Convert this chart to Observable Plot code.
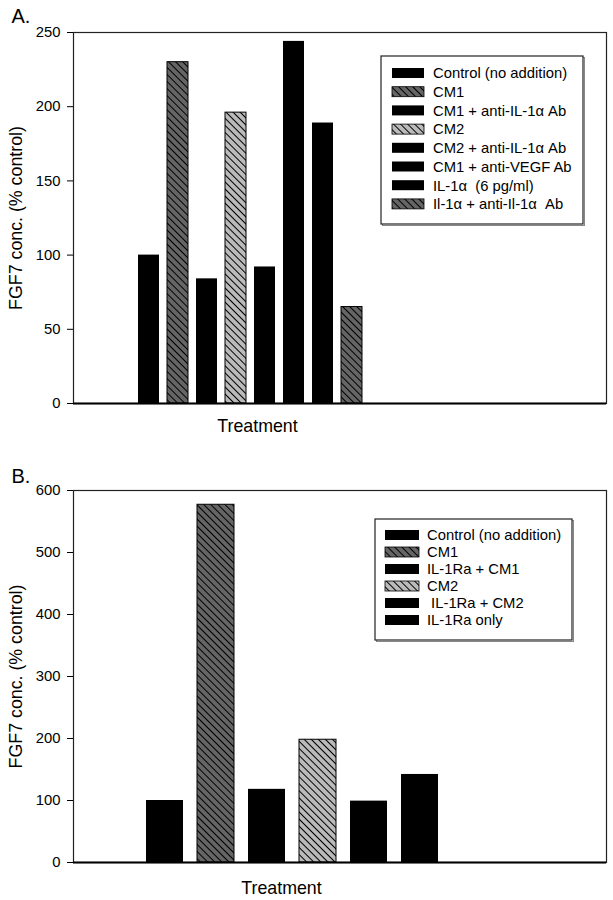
<!DOCTYPE html>
<html>
<head>
<meta charset="utf-8">
<script src="https://cdn.jsdelivr.net/npm/d3@7"></script>
<script src="https://cdn.jsdelivr.net/npm/@observablehq/plot@0.6"></script>
<style>
  html, body { margin: 0; padding: 0; background: #fff; }
  body { width: 613px; height: 900px; overflow: hidden; font-family: "Liberation Sans", Arial, sans-serif; }
  .panel { width: 613px; height: 450px; }
  svg text.pre { white-space: pre; }
</style>
</head>
<body>
<svg width="0" height="0" style="position:absolute">
  <defs>
    <pattern id="hatchDark" patternUnits="userSpaceOnUse" width="5" height="5" patternTransform="rotate(-45)">
      <rect width="5" height="5" fill="#656565"></rect>
      <line x1="0.5" y1="0" x2="0.5" y2="5" stroke="#000" stroke-width="1"></line>
    </pattern>
    <pattern id="hatchLight" patternUnits="userSpaceOnUse" width="5" height="5" patternTransform="rotate(-45)">
      <rect width="5" height="5" fill="#bababa"></rect>
      <line x1="0.5" y1="0" x2="0.5" y2="5" stroke="#000" stroke-width="1"></line>
    </pattern>
  </defs>
</svg>
<div id="panelA" class="panel"></div>
<div id="panelB" class="panel"></div>
<script>
// ---------- data ----------
const treatmentsA = ["Control (no addition)", "CM1", "CM1 + anti-IL-1\u03b1 Ab", "CM2", "CM2 + anti-IL-1\u03b1 Ab", "CM1 + anti-VEGF Ab", "IL-1\u03b1  (6 pg/ml)", "Il-1\u03b1 + anti-Il-1\u03b1  Ab"];
const valuesA = [100, 230, 84, 196, 92, 244, 189, 65];
const patternsA = ["solid", "dark", "solid", "light", "solid", "solid", "solid", "dark"];
const ticksA = [0, 50, 100, 150, 200, 250];

const treatmentsB = ["Control (no addition)", "CM1", "IL-1Ra + CM1", "CM2", " IL-1Ra + CM2", "IL-1Ra only"];
const valuesB = [100, 577, 118, 198, 99, 142];
const patternsB = ["solid", "dark", "solid", "light", "solid", "solid"];
const ticksB = [0, 100, 200, 300, 400, 500, 600];

const panelLabels = ["A.", "B."];
const yLabel = "FGF7 conc. (% control)";
const xLabel = "Treatment";

const fills = {solid: "#000", dark: "url(#hatchDark)", light: "url(#hatchLight)"};
const FONT = "'Liberation Sans', Arial, Helvetica, sans-serif";

function makePanel(cfg) {
  const data = cfg.treatments.map((t, i) => ({treatment: t, value: cfg.values[i], fill: fills[cfg.patterns[i]], pat: cfg.patterns[i]}));
  const svg = Plot.plot({
    width: 613,
    height: 450,
    marginLeft: 73,
    marginRight: 7,
    marginTop: cfg.marginTop,
    marginBottom: cfg.marginBottom,
    style: {fontFamily: FONT, fontSize: "14.5px", color: "#000", background: "#fff"},
    x: {domain: cfg.treatments, range: cfg.xRange, paddingInner: 0.27, paddingOuter: 0.135, axis: null},
    y: {domain: [0, cfg.ticks[cfg.ticks.length - 1]], axis: null},
    color: {type: "identity"},
    marks: [
      Plot.barY(data, {x: "treatment", y: "value", fill: "fill", stroke: d => d.pat === "solid" ? "none" : "#000", strokeWidth: 1}),
      Plot.frame({stroke: "#222", strokeWidth: 1.2}),
      Plot.ruleY([0], {stroke: "#000", strokeWidth: 2}),
      Plot.axisY({ticks: cfg.ticks, tickSize: 6, tickPadding: 7, fontSize: 14.8, label: null, tickFormat: d => String(d)}),
      Plot.text([yLabel], {text: d => d, frameAnchor: "left", dx: -57, rotate: -90, fontSize: 17.8, textAnchor: "middle", lineAnchor: "middle"}),
      Plot.text([xLabel], {text: d => d, frameAnchor: "bottom-left", dx: cfg.xLabelDx, dy: cfg.xLabelDy, fontSize: 17.8, textAnchor: "middle", lineAnchor: "middle"}),
      Plot.text([cfg.panelLabel], {text: d => d, frameAnchor: "top-left", dx: -62, dy: cfg.panelDy, fontSize: 20, textAnchor: "start", lineAnchor: "bottom"})
    ]
  });

  // legend box
  const L = cfg.legend;
  const g = d3.select(svg).append("g")
    .attr("font-family", FONT).attr("font-size", 14.8).attr("text-anchor", "start");
  g.append("rect").attr("x", L.x + 1.5).attr("y", L.y + 1.5).attr("width", L.w).attr("height", L.h)
    .attr("fill", "none").attr("stroke", "#888").attr("stroke-width", 1);
  g.append("rect").attr("x", L.x).attr("y", L.y).attr("width", L.w).attr("height", L.h)
    .attr("fill", "#fff").attr("stroke", "#222").attr("stroke-width", 1.2);
  cfg.treatments.forEach((t, i) => {
    const cy = L.row0 + i * L.step;
    g.append("rect").attr("x", L.sx).attr("y", cy - 5).attr("width", L.sw).attr("height", 10)
      .attr("fill", fills[cfg.patterns[i]])
      .attr("stroke", cfg.patterns[i] === "solid" ? "none" : "#000").attr("stroke-width", 0.8);
    g.append("text").attr("class", "pre").attr("x", L.tx).attr("y", cy).attr("dy", "0.36em")
      .attr("text-anchor", "start").attr("fill", "#000").text(t);
  });
  return svg;
}

document.getElementById("panelA").appendChild(makePanel({
  treatments: treatmentsA, values: valuesA, patterns: patternsA, ticks: ticksA,
  marginTop: 32, marginBottom: 47, xRange: [132.6, 367.8],
  xLabelDx: 184, xLabelDy: 23, panelLabel: panelLabels[0], panelDy: -10,
  legend: {x: 381, y: 56, w: 202, h: 168, row0: 73, step: 18.7, sx: 392, sw: 32, tx: 433}
}));

document.getElementById("panelB").appendChild(makePanel({
  treatments: treatmentsB, values: valuesB, patterns: patternsB, ticks: ticksB,
  marginTop: 40, marginBottom: 38, xRange: [139.5, 445.5],
  xLabelDx: 208, xLabelDy: 26, panelLabel: panelLabels[1], panelDy: -8,
  legend: {x: 375, y: 69, w: 197, h: 121, row0: 85, step: 17, sx: 385, sw: 34, tx: 427}
}));
</script>
</body>
</html>
